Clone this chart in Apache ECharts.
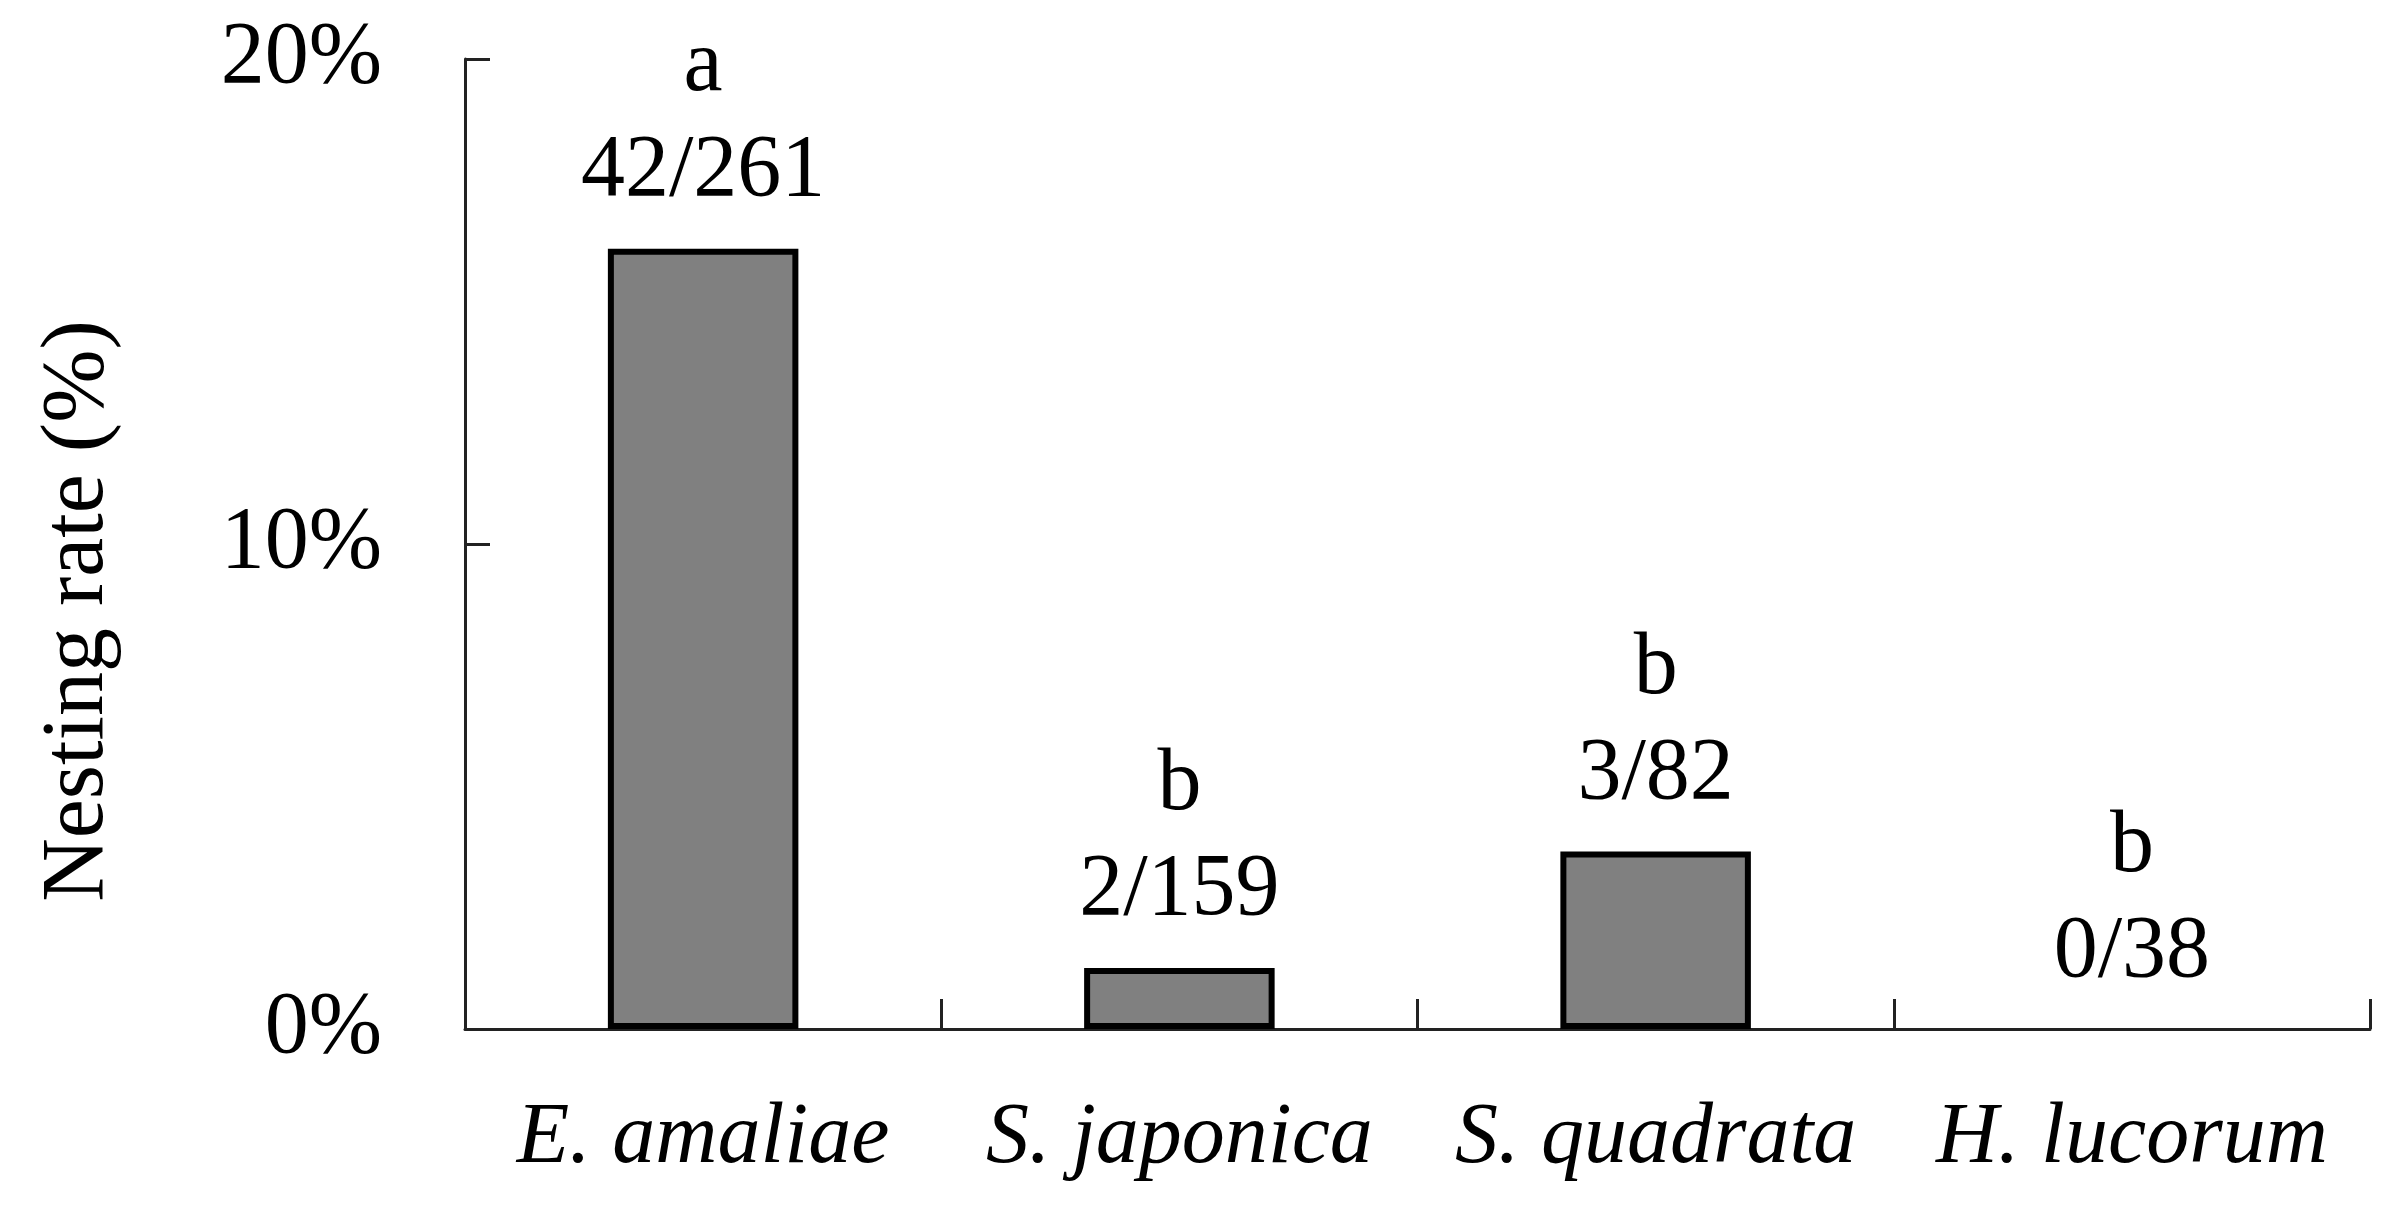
<!DOCTYPE html>
<html>
<head>
<meta charset="utf-8">
<script src="https://cdn.jsdelivr.net/npm/echarts@6/dist/echarts.min.js"></script>
<style>
html,body{margin:0;padding:0;background:#fff;}
#chart{width:2397px;height:1208px;}
</style>
</head>
<body>
<div id="chart"></div>
<script>
var categories = ['E. amaliae', 'S. japonica', 'S. quadrata', 'H. lucorum'];
var rates = [16.09, 1.26, 3.66, 0];
var letters = ['a', 'b', 'b', 'b'];
var counts = ['42/261', '2/159', '3/82', '0/38'];
var yTicks = [0, 10, 20];

var FONT = '"Liberation Serif", "Times New Roman", serif';
var chart = echarts.init(document.getElementById('chart'));
chart.setOption({
  animation: false,
  backgroundColor: '#fff',
  grid: { left: 465, right: 27, top: 59, bottom: 179, containLabel: false },
  xAxis: {
    type: 'category',
    data: categories,
    boundaryGap: true,
    axisLine: { show: true, lineStyle: { color: '#222', width: 3 } },
    axisTick: { show: true, inside: true, interval: 0, length: 30, alignWithLabel: false, lineStyle: { color: '#222', width: 3 } },
    axisLabel: { interval: 0, hideOverlap: false, fontFamily: FONT, fontStyle: 'italic', fontSize: 86, color: '#000', margin: 67 },
    splitLine: { show: false }
  },
  yAxis: {
    type: 'value',
    min: yTicks[0],
    max: yTicks[yTicks.length - 1],
    interval: yTicks[1] - yTicks[0],
    name: 'Nesting rate (%)',
    nameLocation: 'middle',
    nameGap: 342,
    nameTextStyle: { fontFamily: FONT, fontSize: 88, color: '#000', padding: [0, 134, 0, 0] },
    axisLine: { show: true, lineStyle: { color: '#222', width: 3 } },
    axisTick: { show: true, inside: true, length: 25, lineStyle: { color: '#222', width: 3 } },
    axisLabel: { fontFamily: FONT, fontSize: 88, color: '#000', margin: 83, formatter: '{value}%' },
    splitLine: { show: false }
  },
  series: [{
    type: 'bar',
    barWidth: '40%',
    data: rates.map(function (v) {
      return v === 0 ? { value: v, itemStyle: { borderWidth: 0 } } : v;
    }),
    itemStyle: { color: '#808080', borderColor: '#000', borderWidth: 6 },
    label: {
      show: true,
      position: 'top',
      distance: 24,
      fontFamily: FONT,
      fontSize: 88,
      lineHeight: 105,
      color: '#000',
      formatter: function (p) { return letters[p.dataIndex] + '\n' + counts[p.dataIndex]; }
    }
  }]
});
</script>
</body>
</html>
